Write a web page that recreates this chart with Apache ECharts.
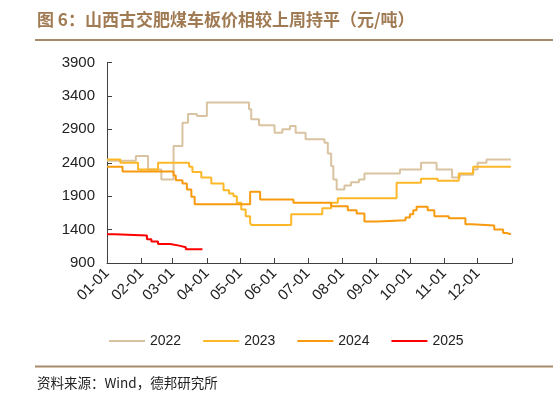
<!doctype html>
<html>
<head>
    <meta http-equiv="Content-Type" content="text/html; charset=utf-8">
    <title>山西古交肥煤车板价</title>
    <script src="https://cdn.jsdelivr.net/npm/echarts@6/dist/echarts.min.js"></script>
    <style>
        html, body {margin: 0; padding: 0; background: #fff;}
        #chart {width: 553px; height: 407px;}
    </style>
</head>
<body>
<div id="chart"></div>
<script type="text/javascript">
    // 横轴刻度（每月1日）
    var monthTicks = ['01-01','02-01','03-01','04-01','05-01','06-01','07-01','08-01','09-01','10-01','11-01','12-01'];
    var yTicks = [900, 1400, 1900, 2400, 2900, 3400, 3900];

    // 各年价格（元/吨），[日期, 价格]，价格从该日起保持到下一个点
    var s2022 = [['01-01',2430],['01-27',2500],['02-07',2300],['02-19',2150],['03-02',2650],['03-10',3000],
        ['03-15',3130],['03-23',3100],['04-01',3300],['05-09',3200],['05-11',3050],['05-18',2960],
        ['06-01',2850],['06-08',2900],['06-15',2950],['06-20',2850],['06-29',2750],['07-16',2700],
        ['07-19',2540],['07-22',2350],['07-24',2150],['07-27',2000],['08-03',2060],['08-09',2110],
        ['08-16',2150],['08-21',2240],['09-22',2300],['10-11',2400],['10-25',2300],['11-08',2180],
        ['11-15',2220],['11-27',2300],['12-01',2400],['12-09',2450],['12-31',2450]];
    var s2023 = [['01-01',2450],['01-13',2400],['01-29',2300],['02-16',2400],['03-16',2340],['03-19',2260],
        ['03-27',2180],['04-05',2090],['04-16',1990],['04-21',1940],['04-25',1900],['04-28',1800],
        ['05-02',1700],['05-06',1600],['05-10',1500],['05-11',1470],['06-16',1630],['07-14',1720],
        ['07-22',1800],['07-28',1870],['09-19',2100],['10-11',2160],['10-26',2130],['11-14',2240],
        ['11-27',2340],['12-31',2340]];
    var s2024 = [['01-01',2340],['01-15',2270],['03-02',2210],['03-04',2140],['03-10',2090],['03-14',2000],
        ['03-18',1890],['03-21',1780],['05-10',1965],['05-19',1850],['06-18',1800],['07-22',1750],
        ['08-06',1690],['08-14',1640],['08-21',1520],['09-02',1540],['09-27',1580],['10-01',1630],
        ['10-04',1690],['10-07',1740],['10-17',1690],['10-23',1600],['11-05',1570],['11-20',1480],
        ['11-26',1460],['12-16',1400],['12-24',1350],['12-27',1330],['12-31',1320]];
    var s2025 = [['01-01',1330],['01-08',1310],['02-06',1255],['02-10',1220],['02-16',1185],['02-27',1160],
        ['03-07',1135],['03-13',1105],['03-28',1105]];

    var colors = ['#D9C3A0', '#FDB829', '#F79A0E', '#FF0000'];

    function dayOf(md) {
        var p = md.split('-');
        return (Date.UTC(2023, +p[0] - 1, +p[1]) - Date.UTC(2023, 0, 1)) / 86400000;
    }
    function toXY(list) {
        return list.map(function (d) { return [dayOf(d[0]), d[1]]; });
    }
    var tickDays = monthTicks.map(dayOf);

    var myChart = echarts.init(document.getElementById('chart'));
    var option = {
        animation: false,
        color: colors,
        textStyle: {fontFamily: 'Liberation Sans, Arial, sans-serif'},
        grid: {left: 107, right: 41, top: 62.5, bottom: 144, containLabel: false},
        legend: {
            data: ['2022', '2023', '2024', '2025'],
            left: 104, top: 329,
            icon: 'rect', itemWidth: 36, itemHeight: 2, itemGap: 22,
            textStyle: {fontSize: 14, color: '#222'}
        },
        xAxis: {
            type: 'value', min: 0, max: 365,
            axisLine: {lineStyle: {color: '#404040', width: 1}},
            axisTick: {inside: true, length: 5, customValues: tickDays.concat([365]), lineStyle: {color: '#404040'}},
            axisLabel: {
                customValues: tickDays, rotate: 45, fontSize: 15, color: '#222', margin: 8,
                formatter: function (v) { return monthTicks[tickDays.indexOf(v)]; }
            },
            splitLine: {show: false}
        },
        yAxis: {
            type: 'value', min: 900, max: 3900,
            axisLine: {show: true, lineStyle: {color: '#404040', width: 1}},
            axisTick: {show: true, inside: true, length: 5, customValues: yTicks, lineStyle: {color: '#404040'}},
            axisLabel: {customValues: yTicks, fontSize: 15, color: '#222', margin: 12,
                formatter: function (v) { return String(v); }},
            splitLine: {show: false}
        },
        series: [
            {name: '2022', type: 'line', step: 'end', symbol: 'none', data: toXY(s2022), lineStyle: {width: 2}},
            {name: '2023', type: 'line', step: 'end', symbol: 'none', data: toXY(s2023), lineStyle: {width: 2}},
            {name: '2024', type: 'line', step: 'end', symbol: 'none', data: toXY(s2024), lineStyle: {width: 2}},
            {name: '2025', type: 'line', step: 'end', symbol: 'none', data: toXY(s2025), lineStyle: {width: 2}}
        ],
        graphic: [
            {type: 'text', left: 37, top: 11, style: {text: '图 6：山西古交肥煤车板价相较上周持平（元/吨）',
                font: 'bold 17px "Noto Sans CJK SC"', fill: '#A07A52'}},
            {type: 'line', shape: {x1: 35, y1: 40, x2: 553, y2: 40}, style: {stroke: '#A88B6A', lineWidth: 2}},
            {type: 'line', shape: {x1: 35, y1: 366.5, x2: 553, y2: 366.5}, style: {stroke: '#A88B6A', lineWidth: 2}},
            {type: 'text', left: 37, top: 376, style: {text: '资料来源：Wind，德邦研究所',
                font: '13.5px "Noto Sans CJK SC"', fill: '#222'}}
        ]
    };
    myChart.setOption(option);
</script>
</body>
</html>
